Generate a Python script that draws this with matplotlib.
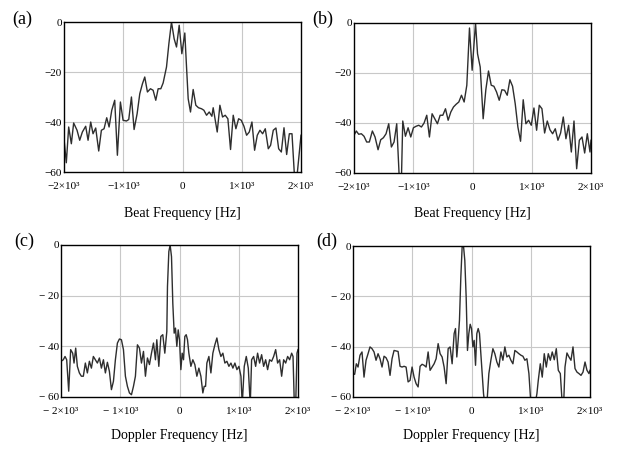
import numpy as np
import matplotlib
matplotlib.use('Agg')
import matplotlib.pyplot as plt

# (a) beat spectrum
freq_a = [-2000, -1961, -1921, -1876, -1837, -1780, -1735, -1690, -1634, -1594, -1549, -1510,
          -1465, -1414, -1369, -1324, -1279, -1239, -1194, -1144, -1099, -1048, -1003, -946,
          -907, -862, -817, -766, -721, -676, -637, -592, -541, -496, -451, -411, -366, -327,
          -270, -230, -186, -141, -101, -56, -11, 39, 68, 96, 135, 180, 225, 270, 321, 361,
          406, 451, 496, 518, 586, 631, 676, 721, 766, 811, 856, 901, 947, 992, 1037, 1082,
          1127, 1172, 1217, 1262, 1307, 1352, 1397, 1448, 1487, 1532, 1577, 1623, 1668, 1713,
          1758, 1803, 1848, 1893, 1927, 2000]
db_a = [-46.7, -56.3, -42, -48.7, -40.4, -43.3, -47.3, -44, -41.7, -47.3, -40, -44.7,
        -42.4, -51.6, -43.3, -42.7, -38.3, -42, -35.3, -31.3, -53.3, -32, -39.3, -39.6,
        -39, -30, -43, -36.7, -28.7, -24.7, -22, -28, -26.7, -27.3, -31.3, -26.7, -26.7, -24.4,
        -18, -8.7, 0, -6.7, -10, -1.3, -12.7, -4.4, -18, -30.7, -36, -27, -33.3, -34.3, -34.7, -35.3,
        -37.3, -36, -37.7, -34.3, -44, -33.3, -38, -37.3, -38.7, -51, -37.3, -42.7, -38.7, -39.3,
        -41.7, -45.3, -44, -40, -51.3, -45.3, -43.3, -44.7, -42.7, -50.7, -49.3, -43.3, -42.4,
        -50.7, -52, -42.3, -53, -44.7, -44.7, -63, -63, -45.3]

# (b) beat spectrum
freq_b = [-2000, -1961, -1921, -1876, -1831, -1786, -1741, -1690, -1645, -1594, -1549, -1504,
          -1459, -1414, -1369, -1324, -1279, -1234, -1200, -1177, -1132, -1087, -1042, -997,
          -952, -907, -862, -817, -772, -727, -682, -637, -592, -546, -501, -456, -411, -366,
          -321, -276, -231, -186, -141, -96, -51, -6, 51, 85, 130, 180, 225, 270, 316, 361, 406,
          451, 496, 541, 586, 631, 676, 721, 766, 811, 856, 901, 947, 992, 1037, 1082, 1127,
          1172, 1217, 1262, 1307, 1352, 1397, 1442, 1487, 1532, 1577, 1622, 1668, 1713, 1758,
          1803, 1848, 1893, 1938, 1983, 2000]
db_b = [-44.9, -43.2, -44.5, -44.3, -45.3, -47.6, -47.6, -43.2, -45.6, -50.7, -46.7, -45.9,
        -44.3, -40.3, -49.6, -47.6, -40.3, -63, -63, -39.2, -45.3, -41.9, -45.6, -41.9,
        -41.3, -40.9, -41.6, -40, -36.9, -45.6, -36.3, -38.3, -40.3, -36.9, -36.9, -34.3, -38.9,
        -35.6, -33.6, -32.5, -31.6, -28.9, -31.6, -24.9, -2, -18.9, 0, -12.3, -17.6, -38.3, -26.7,
        -19.2, -24.9, -25.3, -27.6, -30.9, -26.7, -26.9, -28.9, -22.7, -25.3, -32.3, -41.6, -47.3,
        -30.7, -40.3, -38.9, -40.9, -34, -42.9, -32.9, -34.3, -44, -39.2, -42.7, -44.3, -42.3,
        -46.9, -44, -37.6, -46.3, -40.9, -51.6, -39.2, -58.3, -46.9, -45.6, -52, -44.3, -51.6, -46.9]

# (c) doppler spectrum
freq_c = [-2000, -1961, -1932, -1904, -1870, -1837, -1803, -1780, -1752, -1724, -1690, -1656,
          -1623, -1589, -1555, -1521, -1487, -1454, -1420, -1386, -1352, -1318, -1284, -1251,
          -1217, -1183, -1149, -1115, -1082, -1048, -1014, -980, -946, -913, -879, -845, -811,
          -777, -744, -710, -676, -642, -608, -575, -541, -507, -473, -439, -406, -383, -349,
          -315, -282, -248, -214, -203, -180, -158, -135, -113, -90, -68, -45, -22, 0, 23, 45,
          68, 90, 113, 135, 158, 192, 225, 259, 293, 327, 361, 394, 417, 440, 462, 496, 530,
          563, 597, 631, 665, 699, 732, 766, 800, 834, 868, 901, 935, 969, 1003, 1037, 1059,
          1093, 1127, 1161, 1194, 1217, 1251, 1285, 1318, 1352, 1386, 1420, 1454, 1487, 1521,
          1555, 1589, 1623, 1656, 1690, 1724, 1758, 1792, 1825, 1859, 1893, 1916, 1938, 1961,
          1983, 2000]
db_c = [-45.9, -45.3, -44, -45.3, -57.7, -41.3, -42.7, -46.6, -40.7, -47.9, -50.5, -51.8,
        -51.8, -46.6, -50.5, -45.9, -48.6, -44, -45.3, -46.6, -44.6, -48.6, -45.3, -50.5,
        -46.3, -49.9, -57.1, -53.8, -45.3, -38.7, -37.1, -37.4, -41.3, -51.8, -55.8, -58.4,
        -59.1, -55.8, -51.8, -39.4, -40.7, -46.6, -42, -51.8, -44.6, -47.2, -42.7, -38.7, -45.3,
        -37.4, -47.9, -36.1, -35.4, -42.7, -34.1, -16.4, -2.6, 0, -4.6, -23, -34.8, -32.8, -40,
        -33.5, -37.4, -49.2, -42.7, -45.3, -36.1, -35.4, -37.4, -42.7, -47.9, -45.3, -47.2,
        -51.8, -48.6, -51.8, -58.4, -55.8, -55.8, -46.6, -44, -50.5, -42.7, -39.4, -36.7, -41.3,
        -44, -42.7, -46.6, -45.9, -47.9, -46.6, -48.6, -46.6, -49.2, -47.9, -51.8, -63, -47.9,
        -44, -48.6, -63, -45.3, -44, -47.9, -42.7, -46.6, -43.3, -47.9, -45.3, -49.2, -45.3,
        -45.9, -44, -41.3, -46.6, -45.3, -51.8, -45.3, -46.6, -44, -45.3, -42.7, -44, -63, -63,
        -42.7, -41.3]

# (d) doppler spectrum
freq_d = [-2000, -1972, -1944, -1915, -1882, -1848, -1814, -1780, -1746, -1713, -1679, -1645,
          -1611, -1577, -1544, -1510, -1476, -1442, -1408, -1375, -1341, -1307, -1273, -1239,
          -1206, -1172, -1138, -1104, -1070, -1037, -1003, -969, -935, -901, -868, -834, -800,
          -766, -732, -699, -665, -631, -597, -563, -530, -496, -462, -428, -394, -361, -327,
          -293, -270, -248, -225, -203, -180, -158, -135, -113, -90, -68, -45, -22, 0, 23, 45,
          68, 90, 113, 135, 158, 180, 203, 225, 259, 293, 327, 361, 394, 428, 462, 496, 530,
          563, 597, 631, 665, 699, 732, 766, 800, 834, 868, 901, 935, 969, 1003, 1037, 1071,
          1104, 1127, 1161, 1194, 1228, 1262, 1296, 1330, 1363, 1397, 1431, 1465, 1499, 1532,
          1555, 1578, 1611, 1645, 1679, 1713, 1747, 1780, 1814, 1848, 1882, 1916, 1949, 1983, 2000]
db_d = [-50.7, -51, -46.8, -48.1, -43.4, -42.1, -52.1, -45.4, -42.8, -40.1, -40.8, -42.1,
        -45.4, -42.8, -44.8, -48.1, -43.8, -44.4, -46.1, -51.4, -44.8, -41.5, -41.7, -41.9,
        -47.8, -48.1, -47.8, -48.1, -54, -53.4, -48.1, -52.1, -54.7, -56, -47.8, -47, -47.4,
        -48.1, -42.1, -49.4, -48.1, -46.8, -44.8, -38.8, -42.8, -44.1, -48.1, -54.7, -40.8,
        -40.1, -46.8, -34.8, -32.8, -44.1, -37.5, -29.5, -12.3, -0.4, 0, -5.7, -20.3, -41.5,
        -34.8, -31.1, -32.8, -40.1, -37.5, -47.4, -34.8, -32.8, -34.8, -42.8, -50.7, -58.7,
        -63, -63, -50.7, -45.4, -40.8, -42.8, -46.1, -48.1, -42.1, -45.4, -40.1, -44.1, -43.4,
        -45.4, -46.8, -41.5, -42.1, -42.8, -43.4, -43.8, -45.4, -44.8, -50.7, -63, -63, -63,
        -58.7, -53.4, -46.8, -52.1, -42.8, -48.1, -42.8, -45.4, -42.1, -45.2, -40.8, -49.4,
        -50.7, -63, -63, -48.1, -42.5, -44.1, -45.4, -40.1, -48.7, -50.1, -50.7, -51.4, -50.1,
        -46.1, -49.4, -50.7, -49.4]

W, H = 619, 450
plt.rcParams['font.family'] = ['Liberation Serif', 'DejaVu Serif']

fig = plt.figure(figsize=(W / 100, H / 100), dpi=100)


def px_box(l, t, r, b):
    return [l / W, 1 - b / H, (r - l) / W, (b - t) / H]


def make_panel(box, freq, db, letter, label_xy, xlabel, xlabel_y, spaced):
    ax = fig.add_axes(px_box(*box))
    ax.plot(freq, db, color='#2e2e2e', lw=1.0)
    ax.set_xlim(-2000, 2000)
    ax.set_ylim(-60, 0)
    ax.set_xticks([-2000, -1000, 0, 1000, 2000])
    ax.set_yticks([0, -20, -40, -60])
    m = '\u2212 ' if spaced else '\u2212'
    ax.set_xticklabels([m + '2\u00d710\u00b3', m + '1\u00d710\u00b3', '0',
                        '1\u00d710\u00b3', '2\u00d710\u00b3'], fontsize=8)
    ax.set_yticklabels(['0', m + '20', m + '40', m + '60'], fontsize=8)
    ax.tick_params(axis='x', length=0, pad=7.5)
    ax.tick_params(axis='y', length=0, pad=1.5)
    for g in [-1000, 0, 1000]:
        ax.axvline(g, color='#c8c8c8', lw=0.8, zorder=0)
    for g in [-20, -40]:
        ax.axhline(g, color='#c8c8c8', lw=0.8, zorder=0)
    for s in ax.spines.values():
        s.set_linewidth(1.0)
    fig.text(label_xy[0] / W, 1 - label_xy[1] / H, letter, fontsize=13,
             ha='left', va='center')
    cx = (box[0] + box[2]) / 2
    fig.text(cx / W, 1 - xlabel_y / H, xlabel, fontsize=10, ha='center', va='center')
    return ax


make_panel((64, 22, 301, 172), freq_a, db_a, '(a)', (12, 19), 'Beat Frequency [Hz]', 213, False)
make_panel((354, 23, 591, 173), freq_b, db_b, '(b)', (312, 19), 'Beat Frequency [Hz]', 213, False)
make_panel((61, 245, 298, 397), freq_c, db_c, '(c)', (14, 241), 'Doppler Frequency [Hz]', 436, True)
make_panel((353, 246, 590, 397), freq_d, db_d, '(d)', (316, 241), 'Doppler Frequency [Hz]', 436, True)

fig.savefig('out.png', dpi=100)
